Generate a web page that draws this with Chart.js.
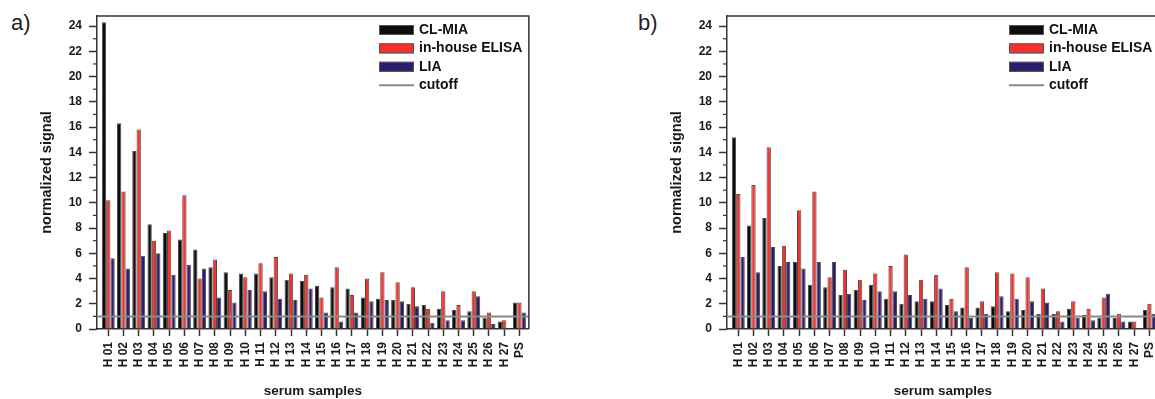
<!DOCTYPE html>
<html lang="en">
<head>
    <meta charset="UTF-8">
    <title>Serum samples - normalized signal</title>
    <script src="https://cdn.jsdelivr.net/npm/chart.js"></script>
    <style>
        body {
            margin: 0;
            width: 1155px;
            height: 399px;
            overflow: hidden;
            position: relative;
            background: #fff;
            font-family: 'Liberation Sans', Arial, sans-serif;
        }

        canvas {
            position: absolute;
            top: 0;
        }

        #chartA { left: 0; }
        #chartB { left: 630px; }

        .panel-label {
            position: absolute;
            top: 10px;
            font-size: 22px;
            color: #222;
        }
    </style>
</head>
<body>
    <div class="panel-label" style="left: 11px;">a)</div>
    <div class="panel-label" style="left: 638px;">b)</div>
    <canvas id="chartA" width="540" height="399"></canvas>
    <canvas id="chartB" width="540" height="399"></canvas>

    <script>
        // Data
        const samples = ['H 01', 'H 02', 'H 03', 'H 04', 'H 05', 'H 06', 'H 07', 'H 08', 'H 09', 'H 10',
            'H 11', 'H 12', 'H 13', 'H 14', 'H 15', 'H 16', 'H 17', 'H 18', 'H 19', 'H 20',
            'H 21', 'H 22', 'H 23', 'H 24', 'H 25', 'H 26', 'H 27', 'PS'];

        // panel a)
        const clmiaA = [24.3, 16.3, 14.1, 8.3, 7.6, 7.1, 6.3, 4.9, 4.5, 4.4, 4.4, 4.1, 3.9, 3.8,
            3.4, 3.3, 3.2, 2.5, 2.4, 2.3, 2.0, 1.9, 1.6, 1.5, 1.4, 0.9, 0.6, 2.1];
        const elisaA = [10.2, 10.9, 15.8, 7.0, 7.8, 10.6, 4.0, 5.5, 3.1, 4.1, 5.2, 5.7, 4.4, 4.3,
            2.5, 4.9, 2.7, 4.0, 4.5, 3.7, 3.3, 1.6, 3.0, 1.9, 3.0, 1.3, 0.7, 2.1];
        const liaA = [5.6, 4.8, 5.8, 6.0, 4.3, 5.1, 4.8, 2.5, 2.1, 3.1, 3.0, 2.4, 2.3, 3.2,
            1.3, 0.6, 1.3, 2.2, 2.3, 2.2, 1.8, 0.5, 0.7, 0.7, 2.6, 0.4, 0, 1.3];

        // panel b)
        const clmiaB = [15.2, 8.2, 8.8, 5.0, 5.3, 3.5, 3.3, 2.7, 3.1, 3.5, 2.4, 2.0, 2.2, 2.2,
            1.9, 1.7, 1.7, 1.8, 1.4, 1.5, 1.2, 1.2, 1.6, 1.1, 0.9, 0.9, 0.6, 1.5];
        const elisaB = [10.7, 11.4, 14.4, 6.6, 9.4, 10.9, 4.1, 4.7, 3.9, 4.4, 5.0, 5.9, 3.9, 4.3,
            2.4, 4.9, 2.2, 4.5, 4.4, 4.1, 3.2, 1.4, 2.2, 1.6, 2.5, 1.2, 0.6, 2.0];
        const liaB = [5.7, 4.5, 6.5, 5.3, 4.8, 5.3, 5.3, 2.8, 2.3, 3.0, 3.0, 2.7, 2.4, 3.2,
            1.4, 0.9, 1.2, 2.6, 2.4, 2.2, 2.1, 0.6, 0.9, 0.7, 2.8, 0.6, 0, 1.2];

        const cutoff = 1;
        const seriesNames = ['CL-MIA', 'in-house ELISA', 'LIA'];
        const seriesColors = ['#0d0d0f', '#f7302c', '#2d1b6b'];

        const tickFont = { family: "'Liberation Sans Narrow', 'Arial Narrow', 'Liberation Sans', Arial, sans-serif", size: 12, weight: 'bold' };
        const axisColor = '#333';

        // frame, minor ticks, cutoff line and legend
        const decorPlugin = {
            id: 'decor',
            afterDatasetsDraw(chart) {
                const { ctx, chartArea: a, scales } = chart;
                const y = scales.y.getPixelForValue(cutoff);
                ctx.save();
                ctx.strokeStyle = '#8a8a8a';
                ctx.lineWidth = 2;
                ctx.beginPath();
                ctx.moveTo(a.left, y);
                ctx.lineTo(a.right, y);
                ctx.stroke();
                ctx.restore();
            },
            afterDraw(chart) {
                const { ctx, chartArea: a, scales } = chart;
                ctx.save();
                ctx.strokeStyle = axisColor;
                ctx.lineWidth = 1.5;
                ctx.beginPath();
                ctx.moveTo(a.left, a.top);
                ctx.lineTo(a.right, a.top);
                ctx.lineTo(a.right, a.bottom);
                ctx.stroke();

                // minor y ticks
                ctx.lineWidth = 1.2;
                for (let v = 1; v < 24; v += 2) {
                    const py = scales.y.getPixelForValue(v);
                    ctx.beginPath();
                    ctx.moveTo(a.left - 4, py);
                    ctx.lineTo(a.left, py);
                    ctx.stroke();
                }

                // legend
                const lx = a.left + 282;
                const rowTop = a.top + 14;
                ctx.font = "bold 14px 'Liberation Sans', Arial, sans-serif";
                ctx.textBaseline = 'middle';
                seriesNames.forEach((name, i) => {
                    const cy = rowTop + i * 18.4;
                    ctx.fillStyle = seriesColors[i];
                    ctx.fillRect(lx, cy - 5, 35, 10);
                    ctx.strokeStyle = '#555';
                    ctx.lineWidth = 1;
                    ctx.strokeRect(lx + 0.5, cy - 4.5, 34, 9);
                    ctx.fillStyle = '#111';
                    ctx.fillText(name, lx + 40, cy);
                });
                const cy = rowTop + 3 * 18.4;
                ctx.strokeStyle = '#8a8a8a';
                ctx.lineWidth = 2;
                ctx.beginPath();
                ctx.moveTo(lx, cy);
                ctx.lineTo(lx + 35, cy);
                ctx.stroke();
                ctx.fillStyle = '#111';
                ctx.fillText('cutoff', lx + 40, cy);
                ctx.restore();
            }
        };

        function makePanel(canvasId, clmia, elisa, lia) {
            const series = [clmia, elisa, lia];
            new Chart(document.getElementById(canvasId), {
                type: 'bar',
                data: {
                    datasets: series.map((values, s) => ({
                        label: seriesNames[s],
                        data: values.map((v, i) => ({ x: i, y: v })),
                        backgroundColor: seriesColors[s],
                        borderColor: '#4a4a4a',
                        borderWidth: 1,
                        categoryPercentage: 0.85,
                        barPercentage: 1.0
                    }))
                },
                options: {
                    responsive: false,
                    devicePixelRatio: 1,
                    animation: false,
                    layout: { padding: { left: 0, right: 8, top: 16, bottom: 0 } },
                    plugins: {
                        legend: { display: false },
                        tooltip: { enabled: false }
                    },
                    scales: {
                        x: {
                            type: 'linear',
                            min: -0.74,
                            max: 27.62,
                            offset: false,
                            border: { display: true, color: axisColor, width: 1.5 },
                            grid: { offset: false, drawOnChartArea: false, drawTicks: true, tickLength: 7, tickColor: axisColor, tickWidth: 1.5 },
                            afterBuildTicks: scale => {
                                scale.ticks = samples.map((_, i) => ({ value: i }));
                            },
                            ticks: {
                                autoSkip: false,
                                minRotation: 90,
                                maxRotation: 90,
                                padding: 6,
                                color: '#1a1a1a',
                                font: tickFont,
                                callback: v => samples[v]
                            },
                            title: {
                                display: true,
                                text: 'serum samples',
                                color: '#1a1a1a',
                                font: { family: "'Liberation Sans', Arial, sans-serif", size: 13.5, weight: 'bold' },
                                padding: { top: 0, bottom: 0 }
                            },
                            afterFit: scale => { scale.height = 70; }
                        },
                        y: {
                            min: 0,
                            max: 24.8,
                            border: { display: true, color: axisColor, width: 1.5 },
                            grid: {
                                drawOnChartArea: false,
                                drawTicks: true,
                                tickLength: 8,
                                tickWidth: 1.5,
                                tickColor: c => (c.tick && c.tick.value % 2 === 0) ? axisColor : 'rgba(0,0,0,0)'
                            },
                            ticks: {
                                stepSize: 1,
                                includeBounds: false,
                                autoSkip: false,
                                padding: 7,
                                color: '#1a1a1a',
                                font: tickFont,
                                callback: v => (v % 2 === 0 ? v : '')
                            },
                            title: {
                                display: true,
                                text: 'normalized signal',
                                color: '#1a1a1a',
                                font: { family: "'Liberation Sans', Arial, sans-serif", size: 14.5, weight: 'bold' },
                                padding: { top: 38, bottom: 0 }
                            },
                            afterFit: scale => { scale.width = 97; }
                        }
                    }
                },
                plugins: [decorPlugin]
            });
        }

        makePanel('chartA', clmiaA, elisaA, liaA);
        makePanel('chartB', clmiaB, elisaB, liaB);
    </script>
</body>
</html>
